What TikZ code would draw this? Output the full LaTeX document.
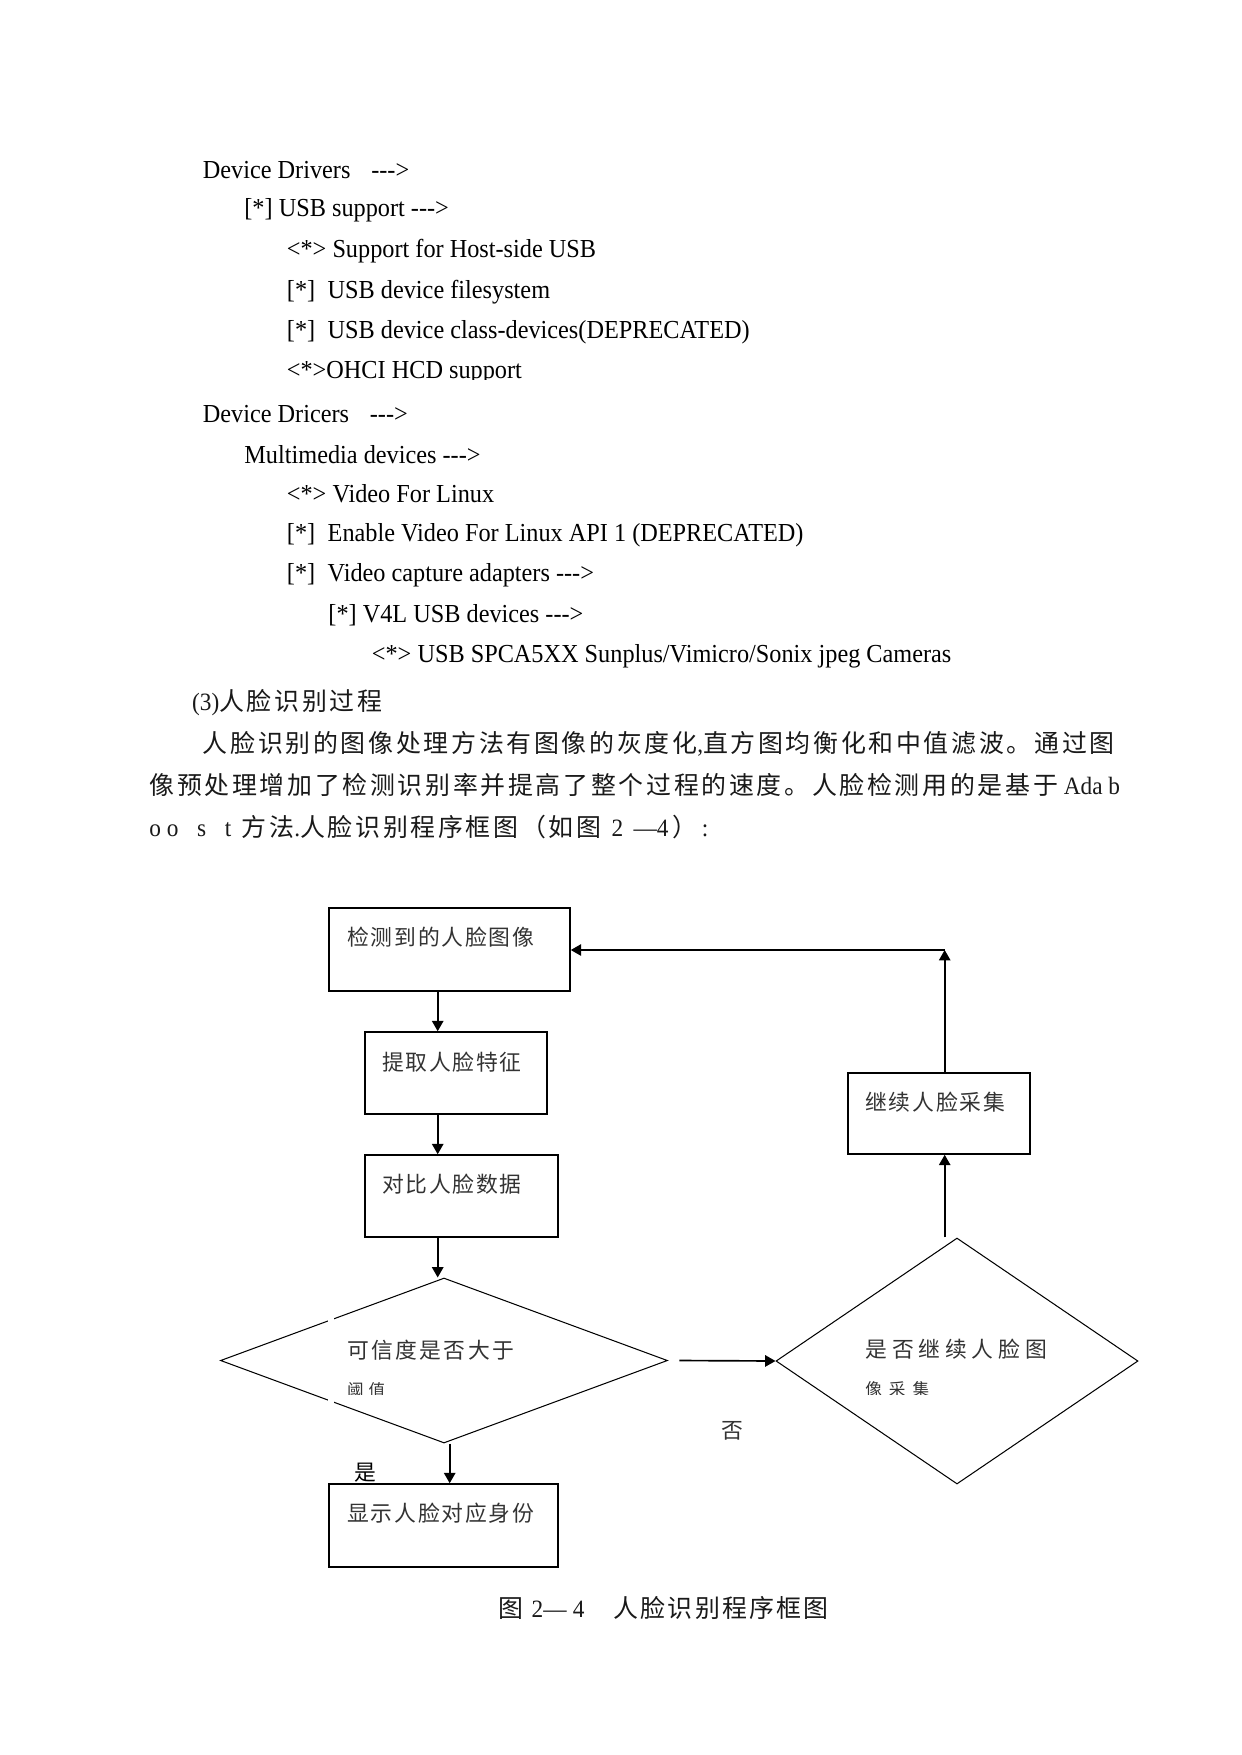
\documentclass[tikz,border=0pt]{standalone}
\usepackage{fontspec}
\setmainfont{Liberation Serif}
\newfontfamily\lat[FakeStretch=0.935]{Liberation Serif}
\newfontfamily\cjkp[LetterSpace=10.8]{Noto Sans CJK SC}
\newfontfamily\cjkcap[LetterSpace=9]{Noto Sans CJK SC}
\newfontfamily\cjkb[LetterSpace=8]{Noto Sans CJK SC}
\newfontfamily\cjkq[LetterSpace=11]{Noto Sans CJK SC}
\newfontfamily\cjkw[LetterSpace=22]{Noto Sans CJK SC}
\newfontfamily\cjks[LetterSpace=30]{Noto Sans CJK SC}
\newfontfamily\cjkt[LetterSpace=42]{Noto Sans CJK SC}
\usetikzlibrary{arrows.meta,shapes.geometric}
\newcommand\pxl{0.4815pt}
\begin{document}
\begin{tikzpicture}[x=0.4815pt, y=-0.4815pt,
  box/.style={draw, line width=0.75pt, rectangle, inner sep=0pt},
  dia/.style={draw, line width=0.5pt, diamond, inner sep=0pt},
  arr/.style={line width=0.8pt, -{Triangle[length=5pt,width=5.5pt]}},
  lst/.style={anchor=west, inner sep=0pt, font=\lat\fontsize{12.5}{14}\selectfont},
  para/.style={anchor=west, inner sep=0pt, text=black!90, font=\cjkp\fontsize{12}{14}\selectfont},
  ftxt/.style={anchor=west, inner sep=0pt, text=black!80, font=\cjkb\fontsize{10.5}{12}\selectfont},
  gapfill/.style={fill=white}
]
\path[use as bounding box, fill=white] (0,0) rectangle (1241,1755);

% ---- listing ----
\node[lst] (l1) at (202.5,170) {Device Drivers\hspace{10pt}-{}-{}->};
\node[lst] (l2) at (244,210.5) {[*] USB support -{}-{}->};
\node[lst] (l3) at (286.5,251) {<*> Support for Host-side USB};
\node[lst] (l4) at (286.5,292) {[*]\hspace{6pt}USB device filesystem};
\node[lst] (l5) at (286.5,332.5) {[*]\hspace{6pt}USB device class-devices(DEPRECATED)};
\begin{scope}
\clip (0,0) rectangle (1241,379.5);
\node[lst] (l6) at (286.5,373) {<*>OHCI HCD support};
\end{scope}
\node[lst] (l7) at (202.5,414) {Device Dricers\hspace{10pt}-{}-{}->};
\node[lst] (l8) at (244,454.5) {Multimedia devices -{}-{}->};
\node[lst] (l9) at (286.5,494) {<*> Video For Linux};
\node[lst] (l10) at (286.5,535) {[*]\hspace{6pt}Enable Video For Linux API 1 (DEPRECATED)};
\node[lst] (l11) at (286.5,575.5) {[*]\hspace{6pt}Video capture adapters -{}-{}->};
\node[lst] (l12) at (328,615.5) {[*] V4L USB devices -{}-{}->};
\node[lst] (l13) at (371.5,656) {<*> USB SPCA5XX Sunplus/Vimicro/Sonix jpeg Cameras};

% ---- paragraph ----
\node[para] (p0) at (191.7,703) {{\lat (3)}人脸识别过程};
\node[para] (p1) at (202.5,744) {人脸识别的图像处理方法有图像的灰度化{\lat ,}直方图均衡化和中值滤波。通过图};
\node[para] (p2) at (149,785.5) {像预处理增加了检测识别率并提高了整个过程的速度。人脸检测用的是基于{\lat\ Ada b}};
\node[para] (p3) at (149,827) {{\lat o o\hspace{9pt}s\hspace{9pt}t\hspace{5pt}}方法{\lat .}人脸识别程序框图（如图{\lat\hspace{5pt}2\hspace{5pt}—4\hspace{2pt}}）{\lat\hspace{2pt}:}};

% ---- flowchart shapes ----
\node[box, minimum width=241*\pxl, minimum height=83*\pxl] (b1) at (449.5,949.5) {};
\node[box, minimum width=182*\pxl, minimum height=82*\pxl] (b2) at (456,1073) {};
\node[box, minimum width=193*\pxl, minimum height=82*\pxl] (b3) at (461.5,1196) {};
\node[dia, minimum width=447*\pxl, minimum height=165*\pxl] (d1) at (444,1360.5) {};
\node[box, minimum width=229*\pxl, minimum height=83*\pxl] (b4) at (443.5,1525.5) {};
\node[box, minimum width=182*\pxl, minimum height=81*\pxl] (b5) at (939,1113.5) {};
\node[dia, minimum width=362*\pxl, minimum height=246*\pxl] (d2) at (957,1361) {};

\fill[gapfill] (328,1316) rectangle (334,1326);
\fill[gapfill] (328,1396) rectangle (334,1406);

% ---- flowchart texts ----
\node[ftxt] (t1) at (347,937) {检测到的人脸图像};
\node[ftxt] (t2) at (381.7,1061.7) {提取人脸特征};
\node[ftxt] (t3) at (381.7,1184) {对比人脸数据};
\node[ftxt, font=\cjkq\fontsize{10.5}{12}\selectfont] (t4) at (346.7,1350) {可信度是否大于};
\begin{scope}
\clip (0,0) rectangle (1241,1394);
\node[ftxt, font=\cjks\fontsize{8}{10}\selectfont] (t4b) at (346.7,1390) {阈值};
\node[ftxt, font=\cjkt\fontsize{8}{10}\selectfont] (t7b) at (865,1389) {像采集};
\end{scope}
\node[ftxt] (t5) at (347,1513) {显示人脸对应身份};
\node[ftxt] (t6) at (865,1102) {继续人脸采集};
\node[ftxt, font=\cjkw\fontsize{10.5}{12}\selectfont] (t7) at (865,1349.6) {是否继续人脸图};
\node[ftxt, text=black] (yes) at (354,1473) {是};
\node[ftxt] (no) at (721,1431) {否};

% ---- connectors ----
\coordinate (cA) at (437.7,0);
\coordinate (cB) at (449.7,0);
\coordinate (cC) at (944.7,950);
\coordinate (d1o) at (679.3,1360.5);
\draw[arr] (b1.south -| cA) -- (b2.north -| cA);
\draw[arr] (b2.south -| cA) -- (b3.north -| cA);
\draw[arr] (b3.south -| cA) -- (d1.north -| cA);
\draw[arr] (d1.south -| cB) -- (b4.north -| cB);
\draw[arr] (d1o) -- (d2.west);
\draw[arr] (d2.north -| cC) -- (b5.south -| cC);
\draw[arr] (b5.north -| cC) -- (cC);
\draw[arr] (cC) -- (b1.east |- cC);

% ---- caption ----
\node[anchor=west, inner sep=0pt, text=black!90, font=\cjkcap\fontsize{12}{14}\selectfont] (cap) at (498,1608)
  {图\hspace{4pt}{\lat 2—\hspace{3pt}4}\hspace{14pt}人脸识别程序框图};
\end{tikzpicture}
\end{document}
